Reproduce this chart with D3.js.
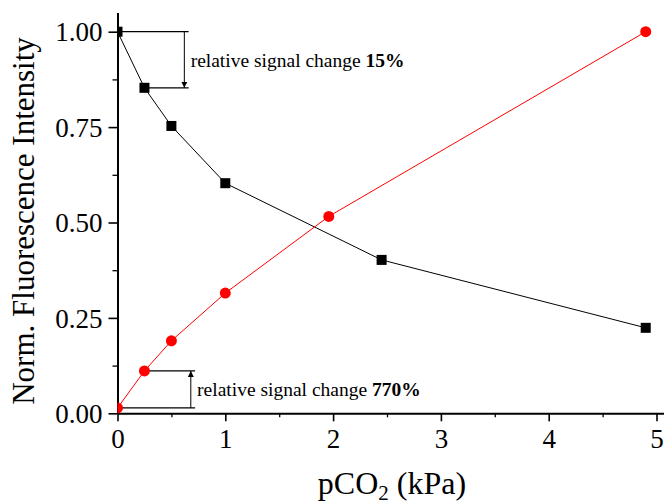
<!DOCTYPE html>
<html>
<head>
<meta charset="utf-8">
<script src="https://cdn.jsdelivr.net/npm/d3@7"></script>
<style>
  body { margin: 0; background: #fff; }
  svg { display: block; font-family: "Liberation Serif", "Times New Roman", serif; }
</style>
</head>
<body>
<div id="chart"></div>
<script>
// data
const pco2Black = [0, 0.25, 0.5, 1.0, 2.45, 4.9];
const intensityBlack = [1.00, 0.853, 0.753, 0.603, 0.402, 0.224];
const pco2Red = [0, 0.25, 0.5, 1.0, 1.96, 4.9];
const intensityRed = [0.014, 0.111, 0.19, 0.315, 0.516, 1.00];
const xTicks = [0, 1, 2, 3, 4, 5];
const yTicks = [0, 0.25, 0.5, 0.75, 1.0];
const annotations = [
    { text: "relative signal change ", bold: "15%", from: 1.00, to: 0.853, xLine: 0.62, xEnd: 0.66 },
    { text: "relative signal change ", bold: "770%", from: 0.014, to: 0.111, xLine: 0.68, xEnd: 0.72 }
];

const width = 664, height = 503;
const x0 = 117.5, y0 = 413.3;

const svg = d3.select("#chart").append("svg")
    .attr("width", width)
    .attr("height", height);

const x = d3.scaleLinear().domain([0, 5.1]).range([x0, x0 + 5.1 * 107.8]);
const y = d3.scaleLinear().domain([0, 1.05]).range([y0, y0 - 1.05 * 381.6]);

svg.append("defs").append("clipPath").attr("id", "plot-clip")
    .append("rect")
    .attr("x", x0).attr("y", 0)
    .attr("width", width - x0).attr("height", y0 + 1);

// minor ticks
svg.append("g")
    .attr("transform", `translate(0,${y0})`)
    .call(d3.axisBottom(x).tickValues(d3.range(0.5, 5.1, 1)).tickSize(4).tickFormat(""))
    .call(g => g.select(".domain").remove())
    .selectAll("line").attr("stroke-width", 1.3);
svg.append("g")
    .attr("transform", `translate(${x0},0)`)
    .call(d3.axisLeft(y).tickValues(d3.range(0.125, 1.0, 0.25)).tickSize(5).tickFormat(""))
    .call(g => g.select(".domain").remove())
    .selectAll("line").attr("stroke-width", 1.3);

// main axes
const xAxis = svg.append("g")
    .attr("transform", `translate(0,${y0})`)
    .call(d3.axisBottom(x).tickValues(xTicks).tickSize(8).tickSizeOuter(0).tickPadding(8).tickFormat(d3.format("d")));
const yAxis = svg.append("g")
    .attr("transform", `translate(${x0},0)`)
    .call(d3.axisLeft(y).tickValues(yTicks).tickSize(9).tickSizeOuter(0).tickPadding(6).tickFormat(d3.format(".2f")));

[xAxis, yAxis].forEach(g => {
    g.select(".domain").attr("stroke-width", 2);
    g.selectAll(".tick line").attr("stroke-width", 1.6);
    g.selectAll(".tick text")
        .attr("fill", "#000")
        .style("font-family", "'Liberation Serif', serif")
        .style("font-size", "27px");
});
yAxis.selectAll(".tick text").attr("dy", "0.34em");

// axis titles
svg.append("text")
    .attr("transform", `translate(34,${221}) rotate(-90)`)
    .attr("text-anchor", "middle")
    .style("font-size", "31px")
    .text("Norm. Fluorescence Intensity");

const xTitle = svg.append("text")
    .attr("x", 392)
    .attr("y", 494)
    .attr("text-anchor", "middle")
    .style("font-size", "32px");
xTitle.append("tspan").text("pCO");
xTitle.append("tspan").attr("dy", 6).style("font-size", "21px").text("2");
xTitle.append("tspan").attr("dy", -6).text(" (kPa)");

// annotations
const ann = svg.append("g");
ann.append("defs").append("marker")
    .attr("id", "arrow")
    .attr("viewBox", "0 0 10 10")
    .attr("refX", 10).attr("refY", 5)
    .attr("markerWidth", 6).attr("markerHeight", 9)
    .attr("markerUnits", "userSpaceOnUse")
    .attr("orient", "auto")
    .append("path").attr("d", "M0,0L10,5L0,10Z").attr("fill", "#000");

annotations.forEach((a, i) => {
    const xs = i === 0 ? pco2Black : pco2Red;
    const g = ann.append("g");
    g.append("line")
        .attr("x1", x(xs[0])).attr("x2", x(a.xEnd))
        .attr("y1", y(a.from)).attr("y2", y(a.from))
        .attr("stroke", "#000").attr("stroke-width", 1.2);
    g.append("line")
        .attr("x1", x(xs[1])).attr("x2", x(a.xEnd))
        .attr("y1", y(a.to)).attr("y2", y(a.to))
        .attr("stroke", "#000").attr("stroke-width", 1.2);
    g.append("line")
        .attr("x1", x(a.xLine)).attr("x2", x(a.xLine))
        .attr("y1", y(a.from)).attr("y2", y(a.to))
        .attr("stroke", "#000").attr("stroke-width", 1)
        .attr("marker-end", "url(#arrow)");
    const t = g.append("text")
        .attr("x", x(a.xEnd) + 2)
        .attr("y", (y(a.from) + y(a.to)) / 2 + 7)
        .style("font-size", "19.5px");
    t.append("tspan").text(a.text);
    t.append("tspan").attr("font-weight", "bold").text(a.bold);
});

// series
const plot = svg.append("g").attr("clip-path", "url(#plot-clip)");
const line = d3.line().x(d => x(d[0])).y(d => y(d[1]));
const black = d3.zip(pco2Black, intensityBlack);
const red = d3.zip(pco2Red, intensityRed);

plot.append("path").datum(black)
    .attr("d", line).attr("fill", "none").attr("stroke", "#000").attr("stroke-width", 1);
plot.append("path").datum(red)
    .attr("d", line).attr("fill", "none").attr("stroke", "#ff0000").attr("stroke-width", 1);

plot.selectAll(".sq").data(black).join("rect")
    .attr("class", "sq")
    .attr("x", d => x(d[0]) - 5).attr("y", d => y(d[1]) - 5)
    .attr("width", 10).attr("height", 10)
    .attr("fill", "#000");
plot.selectAll(".dot").data(red).join("circle")
    .attr("class", "dot")
    .attr("cx", d => x(d[0])).attr("cy", d => y(d[1]))
    .attr("r", 5.5)
    .attr("fill", "#ff0000");
</script>
</body>
</html>
